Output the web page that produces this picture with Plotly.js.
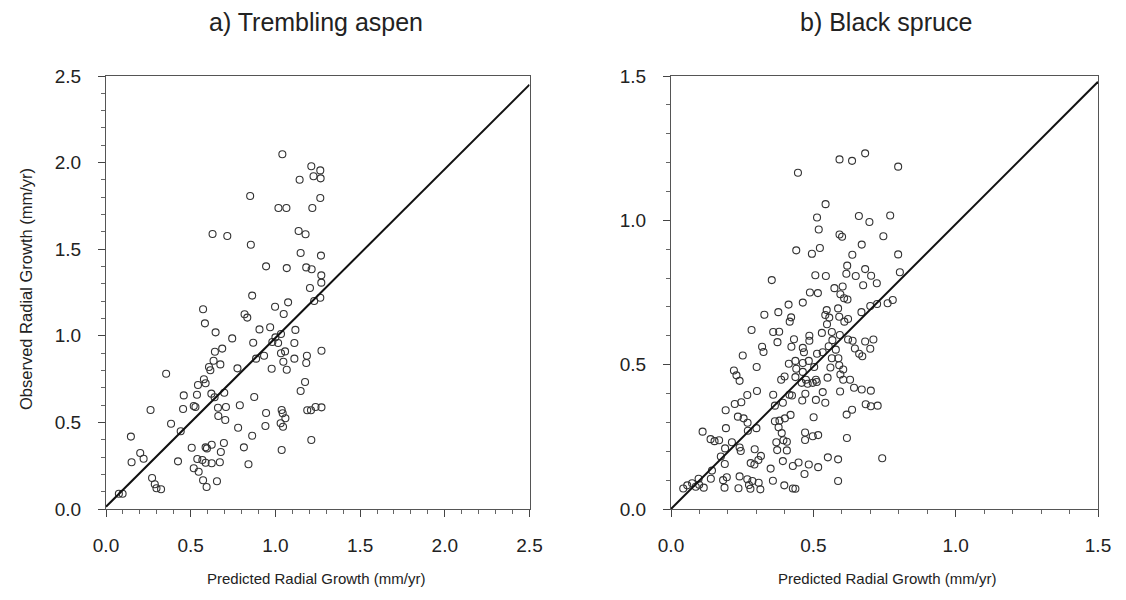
<!DOCTYPE html>
<html>
<head>
<meta charset="utf-8">
<script src="https://cdn.plot.ly/plotly-3.0.1.min.js"></script>
<style>html,body{margin:0;padding:0;background:#fff;}#chart{width:1126px;height:600px;}</style>
</head>
<body>
<div id="chart"></div>
<script>
// a) Trembling aspen
var aspenPred = [1.041,1.212,1.265,1.225,1.267,1.143,0.851,1.265,1.018,1.065,1.218,1.137,1.178,0.629,0.716,0.855,1.149,1.269,0.945,1.067,1.182,1.214,1.271,1.271,1.204,0.863,1.265,
1.229,1.075,0.998,0.573,1.049,0.818,0.834,0.584,0.906,0.969,1.118,0.647,1.033,0.745,1.0,0.982,1.016,0.869,1.112,0.686,0.643,1.033,1.057,0.933,1.272,1.186,0.886,1.112,0.635,0.675,0.608,0.616,1.047,1.182,0.776,0.978,1.067,0.355,0.578,0.588,0.543,1.175,1.149,0.459,0.537,0.622,0.698,0.641,0.875,0.661,0.708,0.455,0.518,0.528,0.263,0.790,0.663,0.704,0.945,1.037,1.043,1.059,1.031,1.045,1.188,1.210,1.237,1.272,0.384,0.441,0.780,0.941,0.147,0.863,1.212,0.506,0.588,0.596,0.624,0.696,0.814,1.037,0.202,0.222,0.151,0.425,0.539,0.569,0.588,0.624,0.672,0.678,0.841,0.518,0.547,0.272,0.288,0.298,0.325,0.573,0.655,0.594,0.076,0.098];
var aspenObs = [2.048,1.979,1.955,1.921,1.909,1.901,1.807,1.796,1.738,1.738,1.738,1.605,1.586,1.588,1.576,1.526,1.478,1.463,1.401,1.391,1.395,1.384,1.349,1.307,1.276,1.232,1.220,
1.201,1.193,1.168,1.153,1.126,1.124,1.105,1.072,1.037,1.049,1.034,1.020,1.010,0.985,0.991,0.964,0.958,0.960,0.958,0.926,0.908,0.899,0.910,0.885,0.914,0.885,0.868,0.868,0.856,0.835,0.820,0.801,0.850,0.843,0.812,0.810,0.804,0.781,0.749,0.726,0.716,0.733,0.681,0.656,0.660,0.666,0.671,0.645,0.647,0.585,0.589,0.577,0.595,0.589,0.572,0.599,0.537,0.514,0.554,0.572,0.553,0.524,0.495,0.475,0.570,0.570,0.589,0.587,0.492,0.449,0.469,0.479,0.418,0.423,0.398,0.354,0.356,0.350,0.371,0.381,0.356,0.341,0.323,0.290,0.270,0.275,0.289,0.283,0.267,0.264,0.270,0.329,0.258,0.235,0.215,0.179,0.143,0.120,0.114,0.166,0.160,0.127,0.088,0.088];
var aspenLineX = [0, 2.5];
var aspenLineY = [0.013, 2.45];

// b) Black spruce
var sprucePred = [0.446,0.592,0.636,0.682,0.798,0.543,0.513,0.660,0.697,0.770,0.519,0.592,0.601,0.746,0.440,0.495,0.523,0.670,0.637,0.798,
0.354,0.413,0.328,0.377,0.422,0.417,0.283,0.359,0.380,0.374,0.320,0.325,0.423,0.252,0.301,0.414,0.221,0.230,0.241,0.399,0.387,
0.619,0.616,0.682,0.649,0.507,0.544,0.703,0.723,0.675,0.804,0.574,0.603,0.488,0.516,0.595,0.608,0.620,0.463,0.761,0.779,0.700,0.724,0.669,0.547,0.542,0.556,0.587,0.591,0.609,0.622,0.548,0.565,0.530,0.593,0.486,0.486,0.432,0.463,0.467,0.567,0.554,0.533,0.513,0.622,0.638,0.646,0.661,0.672,0.682,0.711,0.700,0.579,0.565,0.588,0.437,0.463,0.484,0.503,0.440,0.463,0.437,0.560,0.591,0.605,0.595,0.605,0.550,0.509,0.474,0.629,
0.268,0.302,0.247,0.224,0.192,0.359,0.393,0.416,0.365,0.235,0.255,0.269,0.300,0.270,0.111,0.193,0.365,0.381,0.400,0.420,0.378,0.389,0.395,0.139,0.153,0.169,0.214,0.190,0.241,0.245,0.370,0.407,0.294,0.373,0.407,0.175,0.316,0.307,0.280,0.293,0.189,0.393,0.350,0.144,0.097,0.140,0.183,0.196,0.241,0.268,0.286,0.274,0.308,0.358,0.398,0.428,0.237,0.279,0.314,0.188,0.043,0.057,0.074,0.087,0.099,0.115,
0.459,0.480,0.498,0.512,0.643,0.670,0.702,0.425,0.472,0.461,0.533,0.509,0.542,0.594,0.684,0.702,0.726,0.636,0.617,0.501,0.471,0.471,0.498,0.517,0.618,0.551,0.587,0.742,0.428,0.448,0.484,0.517,0.469,0.587,0.437];
var spruceObs = [1.165,1.211,1.206,1.232,1.186,1.056,1.010,1.015,0.994,1.017,0.968,0.951,0.943,0.945,0.896,0.884,0.904,0.916,0.881,0.882,
0.793,0.708,0.673,0.682,0.664,0.649,0.620,0.613,0.614,0.578,0.562,0.544,0.562,0.532,0.492,0.503,0.480,0.463,0.444,0.459,0.448,
0.843,0.815,0.831,0.807,0.810,0.807,0.808,0.782,0.775,0.820,0.765,0.771,0.750,0.748,0.744,0.730,0.726,0.715,0.713,0.724,0.703,0.710,0.682,0.689,0.672,0.663,0.695,0.666,0.649,0.658,0.640,0.613,0.610,0.603,0.600,0.583,0.588,0.558,0.543,0.585,0.564,0.543,0.538,0.587,0.583,0.556,0.538,0.529,0.580,0.587,0.555,0.552,0.522,0.522,0.513,0.506,0.513,0.492,0.486,0.475,0.457,0.490,0.498,0.483,0.466,0.448,0.455,0.448,0.448,0.448,
0.395,0.409,0.370,0.364,0.342,0.396,0.368,0.396,0.358,0.320,0.314,0.299,0.280,0.271,0.268,0.280,0.304,0.306,0.314,0.326,0.283,0.263,0.238,0.242,0.235,0.238,0.231,0.210,0.213,0.201,0.231,0.233,0.207,0.204,0.203,0.182,0.184,0.170,0.159,0.154,0.156,0.166,0.140,0.133,0.105,0.105,0.100,0.110,0.113,0.103,0.097,0.083,0.091,0.098,0.082,0.071,0.072,0.070,0.068,0.074,0.071,0.082,0.089,0.077,0.084,0.074,
0.437,0.434,0.437,0.440,0.420,0.414,0.410,0.393,0.399,0.376,0.405,0.378,0.368,0.407,0.363,0.356,0.358,0.344,0.327,0.318,0.265,0.239,0.252,0.256,0.246,0.179,0.172,0.176,0.149,0.161,0.154,0.145,0.121,0.097,0.070];
var spruceLineX = [0, 1.5];
var spruceLineY = [0.0, 1.48];

var panelTitles = ['a) Trembling aspen', 'b) Black spruce'];
var xTitle = 'Predicted Radial Growth (mm/yr)';
var yTitle = 'Observed Radial Growth (mm/yr)';
var aspenTicks = [0, 0.5, 1.0, 1.5, 2.0, 2.5];
var spruceTicks = [0, 0.5, 1.0, 1.5];

var FONT = 'Liberation Sans, Arial, sans-serif';
var TXT = '#222';
var marker = {symbol: 'circle-open', size: 7, color: '#333', line: {width: 1.1, color: '#333'}};

var traces = [
  {x: aspenPred, y: aspenObs, type: 'scatter', mode: 'markers', marker: marker, xaxis: 'x', yaxis: 'y', hoverinfo: 'skip'},
  {x: aspenLineX, y: aspenLineY, type: 'scatter', mode: 'lines', line: {color: '#111', width: 2}, xaxis: 'x', yaxis: 'y'},
  {x: sprucePred, y: spruceObs, type: 'scatter', mode: 'markers', marker: marker, xaxis: 'x2', yaxis: 'y2', hoverinfo: 'skip'},
  {x: spruceLineX, y: spruceLineY, type: 'scatter', mode: 'lines', line: {color: '#111', width: 2}, xaxis: 'x2', yaxis: 'y2'}
];

function axis(range, ticks, domain, anchor, standoff) {
  return {
    domain: domain, anchor: anchor, range: range,
    tickmode: 'array', tickvals: ticks, ticktext: ticks.map(function(v){return v.toFixed(1);}),
    ticks: 'outside', ticklen: 7, tickwidth: 1, tickcolor: '#444',
    minor: {dtick: 0.1, ticks: 'outside', ticklen: 4, tickwidth: 1, tickcolor: '#666', showgrid: false},
    showline: true, linecolor: '#555', linewidth: 1, mirror: true,
    showgrid: false, zeroline: false,
    tickfont: {family: FONT, size: 19, color: TXT},
    ticklabelstandoff: standoff
  };
}

var yb = 91/600, yt = 524/600;
var layout = {
  width: 1126, height: 600,
  margin: {l: 0, r: 0, t: 0, b: 0},
  paper_bgcolor: '#fff', plot_bgcolor: '#fff',
  showlegend: false,
  xaxis: axis([0, 2.5], aspenTicks, [106/1126, 529.5/1126], 'y', 12),
  yaxis: axis([0, 2.5], aspenTicks, [yb, yt], 'x', 13),
  xaxis2: axis([0, 1.5], spruceTicks, [671/1126, 1098/1126], 'y2', 12),
  yaxis2: axis([0, 1.5], spruceTicks, [yb, yt], 'x2', 13),
  annotations: [
    {text: panelTitles[0], xref: 'paper', yref: 'paper', x: 316/1126, y: 1 - 22/600, showarrow: false, xanchor: 'center', yanchor: 'middle', font: {family: FONT, size: 25, color: TXT}},
    {text: panelTitles[1], xref: 'paper', yref: 'paper', x: 886/1126, y: 1 - 22/600, showarrow: false, xanchor: 'center', yanchor: 'middle', font: {family: FONT, size: 25, color: TXT}},
    {text: xTitle, xref: 'paper', yref: 'paper', x: 316/1126, y: 1 - 578/600, showarrow: false, xanchor: 'center', yanchor: 'middle', font: {family: FONT, size: 15, color: TXT}},
    {text: xTitle, xref: 'paper', yref: 'paper', x: 887/1126, y: 1 - 578/600, showarrow: false, xanchor: 'center', yanchor: 'middle', font: {family: FONT, size: 15, color: TXT}},
    {text: yTitle, xref: 'paper', yref: 'paper', x: 26/1126, y: 1 - 289/600, showarrow: false, textangle: -90, xanchor: 'center', yanchor: 'middle', font: {family: FONT, size: 16.5, color: TXT}}
  ]
};

Plotly.newPlot('chart', traces, layout, {staticPlot: true, displayModeBar: false});
</script>
</body>
</html>
